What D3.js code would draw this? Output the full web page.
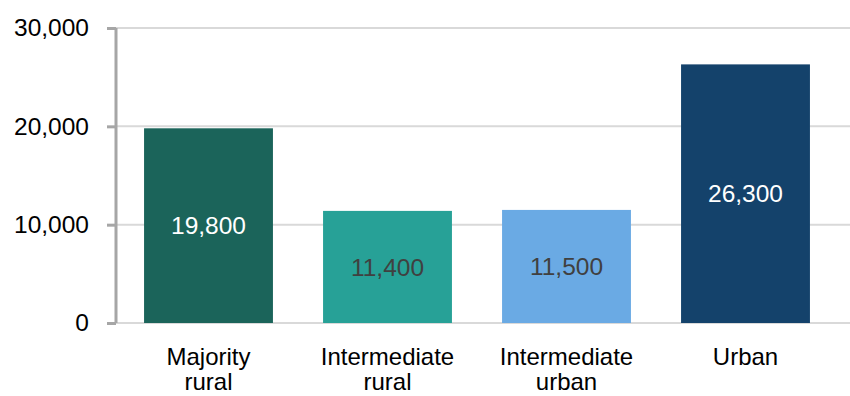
<!DOCTYPE html>
<html>
<head>
<meta charset="utf-8">
<script src="https://cdn.jsdelivr.net/npm/d3@7"></script>
<style>
  html, body { margin: 0; padding: 0; background: #fff; }
  svg { display: block; font-family: "Liberation Sans", Arial, sans-serif; }
</style>
</head>
<body>
<svg id="chart" width="850" height="396"></svg>
<script>
// Population by area type
const categories = [["Majority", "rural"], ["Intermediate", "rural"], ["Intermediate", "urban"], ["Urban"]];
const values = [19800, 11400, 11500, 26300];
const barColors = ["#1b645a", "#27a197", "#6aaae4", "#14426b"];
const labelColors = ["#ffffff", "#404040", "#404040", "#ffffff"];
const yTicks = [0, 10000, 20000, 30000];

const svg = d3.select("#chart");
const axisX = 116;
const fontSize = 24.5;
const keys = categories.map(c => c.join(" "));

const x = d3.scaleBand().domain(keys).range([119, 835]).paddingInner(0.28).paddingOuter(0.14);
const y = d3.scaleLinear().domain([0, 30000]).range([323, 28]);
const fmt = d3.format(",");

// gridlines
svg.append("g").selectAll("line").data(yTicks).join("line")
  .attr("x1", axisX).attr("x2", 850)
  .attr("y1", d => y(d)).attr("y2", d => y(d))
  .attr("stroke", "#d9d9d9").attr("stroke-width", 2);

// bars
svg.append("g").selectAll("rect").data(values).join("rect")
  .attr("x", (d, i) => x(keys[i]))
  .attr("width", x.bandwidth())
  .attr("y", d => y(d))
  .attr("height", d => y(0) - y(d))
  .attr("fill", (d, i) => barColors[i]);

// value labels
svg.append("g").selectAll("text").data(values).join("text")
  .attr("x", (d, i) => x(keys[i]) + x.bandwidth() / 2)
  .attr("y", d => (y(d) + y(0)) / 2)
  .attr("dy", "0.35em")
  .attr("text-anchor", "middle")
  .attr("font-size", fontSize)
  .attr("fill", (d, i) => labelColors[i])
  .text(d => fmt(d));

// y axis
const yAxis = d3.axisLeft(y).tickValues(yTicks).tickFormat(fmt).tickSize(9).tickPadding(18);
const gy = svg.append("g").attr("transform", `translate(${axisX},0)`).call(yAxis)
  .attr("font-size", fontSize).attr("font-family", "'Liberation Sans', Arial, sans-serif");
gy.select(".domain").attr("stroke", "#a6a6a6").attr("stroke-width", 3)
  .attr("d", `M0,${y(30000)}V${y(0)}`);
gy.selectAll(".tick line").attr("stroke", "#a6a6a6").attr("stroke-width", 3);
gy.selectAll(".tick text").attr("fill", "#000");

// category labels, one text per line
const catG = svg.append("g");
categories.forEach((lines, i) => {
  const cx = x(keys[i]) + x.bandwidth() / 2;
  lines.forEach((ln, j) => {
    catG.append("text")
      .attr("x", cx)
      .attr("y", 365 + j * 25)
      .attr("text-anchor", "middle")
      .attr("font-size", 24)
      .attr("fill", "#000")
      .text(ln);
  });
});
</script>
</body>
</html>
